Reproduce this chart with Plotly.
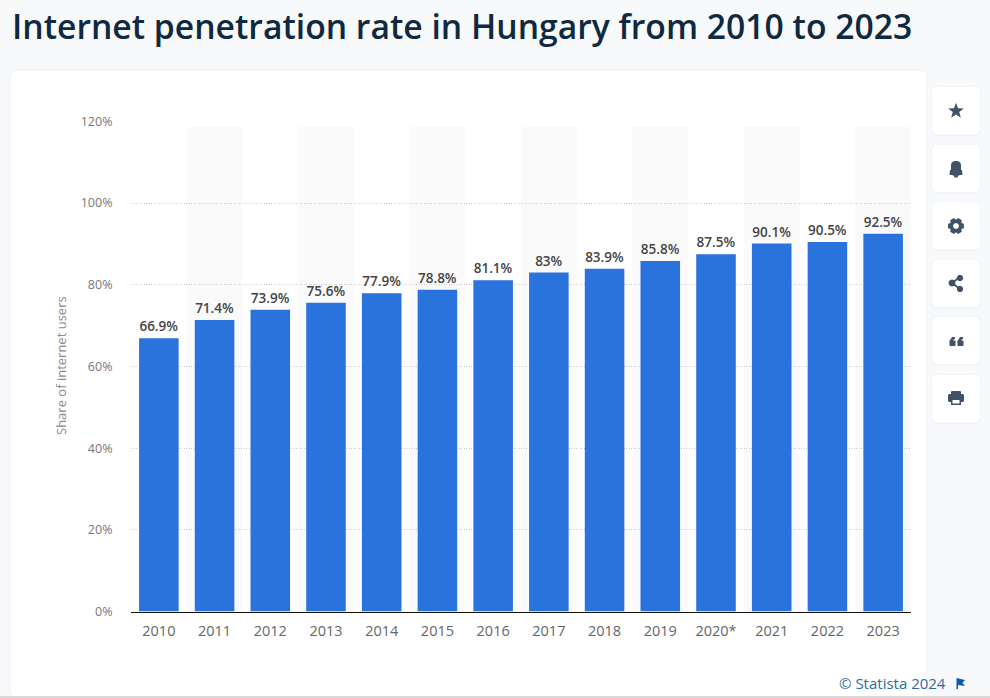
import math
import plotly.graph_objects as go

years = ['2010', '2011', '2012', '2013', '2014', '2015', '2016', '2017', '2018', '2019', '2020*', '2021', '2022', '2023']
share = [66.9, 71.4, 73.9, 75.6, 77.9, 78.8, 81.1, 83, 83.9, 85.8, 87.5, 90.1, 90.5, 92.5]
y_ticks = [0, 20, 40, 60, 80, 100, 120]
y_labels = ['0%', '20%', '40%', '60%', '80%', '100%', '120%']

W, H = 990, 698
FONT = 'Open Sans'
ICON = '#3f5268'


def px(x):
    return x / W


def py(y):
    return 1 - y / H


def poly(points):
    return 'M' + ' L'.join(f'{px(x):.5f},{py(y):.5f}' for x, y in points) + ' Z'


def rounded(x0, y0, x1, y1, r):
    return (f'M{px(x0 + r):.5f},{py(y0):.5f} L{px(x1 - r):.5f},{py(y0):.5f} '
            f'Q{px(x1):.5f},{py(y0):.5f} {px(x1):.5f},{py(y0 + r):.5f} '
            f'L{px(x1):.5f},{py(y1 - r):.5f} Q{px(x1):.5f},{py(y1):.5f} {px(x1 - r):.5f},{py(y1):.5f} '
            f'L{px(x0 + r):.5f},{py(y1):.5f} Q{px(x0):.5f},{py(y1):.5f} {px(x0):.5f},{py(y1 - r):.5f} '
            f'L{px(x0):.5f},{py(y0 + r):.5f} Q{px(x0):.5f},{py(y0):.5f} {px(x0 + r):.5f},{py(y0):.5f} Z')


def circle(cx, cy, r):
    pts = [(cx + r * math.cos(a * math.pi / 12), cy + r * math.sin(a * math.pi / 12)) for a in range(24)]
    return poly(pts)


def paper_shape(path, color, layer='below'):
    return dict(type='path', path=path, xref='paper', yref='paper', fillcolor=color,
                line=dict(width=0), layer=layer)


shapes = [
    # page and card
    dict(type='rect', xref='paper', yref='paper', x0=0, x1=1, y0=0, y1=1,
         fillcolor='#f8f9fb', line=dict(width=0), layer='below'),
    paper_shape(rounded(8, 69, 928, 697, 8), 'rgba(232,236,244,0.2)'),
    paper_shape(rounded(11, 71, 926, 697, 6), '#ffffff'),
    dict(type='rect', xref='paper', yref='paper', x0=0, x1=1, y0=0, y1=py(696),
         fillcolor='#d9d9d9', line=dict(width=0), layer='below'),
]

# pale stripes behind every other year
for i in range(1, len(years), 2):
    shapes.append(dict(type='rect', xref='x', yref='paper', x0=i - 0.5, x1=i + 0.5,
                       y0=py(611), y1=py(127), fillcolor='#fafafb',
                       line=dict(width=0), layer='below'))

# side buttons
for top in [87, 145, 202, 260, 317, 375]:
    shapes.append(paper_shape(rounded(930.5, top - 1, 981.5, top + 49, 7), 'rgba(225,230,240,0.22)', 'above'))
    shapes.append(paper_shape(rounded(932, top, 980, top + 47, 6), '#ffffff', 'above'))

# star
star = []
for k in range(10):
    r = 8.2 if k % 2 == 0 else 3.4
    a = -math.pi / 2 + k * math.pi / 5
    star.append((956 + r * math.cos(a), 111 + r * math.sin(a)))
shapes.append(paper_shape(poly(star), ICON, 'above'))

# bell
shapes.append(paper_shape(rounded(951, 161, 961, 176, 4.5), ICON, 'above'))
shapes.append(paper_shape(poly([(950, 170), (962, 170), (962.5, 175), (949.5, 175)]), ICON, 'above'))
shapes.append(paper_shape(rounded(954, 175.5, 958, 177.5, 1), ICON, 'above'))

# gear
teeth = []
for k in range(6):
    a = k * math.pi / 3
    w = 0.32
    teeth += [(956 + 6.2 * math.cos(a - w - 0.2), 226 + 6.2 * math.sin(a - w - 0.2)),
              (956 + 8.2 * math.cos(a - w + 0.05), 226 + 8.2 * math.sin(a - w + 0.05)),
              (956 + 8.2 * math.cos(a + w - 0.05), 226 + 8.2 * math.sin(a + w - 0.05)),
              (956 + 6.2 * math.cos(a + w + 0.2), 226 + 6.2 * math.sin(a + w + 0.2))]
shapes.append(paper_shape(poly(teeth), ICON, 'above'))
shapes.append(paper_shape(circle(956, 226, 2.9), '#ffffff', 'above'))

# share
for x0, y0, x1, y1 in [(960, 277, 952, 283), (952, 283, 960, 289)]:
    shapes.append(dict(type='line', xref='paper', yref='paper', x0=px(x0), y0=py(y0), x1=px(x1), y1=py(y1),
                       line=dict(color=ICON, width=1.8), layer='above'))
for cx, cy, r in [(960, 278, 3.1), (952, 283, 3.4), (960, 289, 3.1)]:
    shapes.append(paper_shape(circle(cx, cy, r), ICON, 'above'))

# quote marks
for dx in [0, 8]:
    shapes.append(paper_shape(rounded(949.5 + dx, 340.5, 955.5 + dx, 346, 0.8), ICON, 'above'))
    shapes.append(paper_shape(poly([(949.5 + dx, 341), (952 + dx, 337), (955 + dx, 337), (955 + dx, 338.5),
                                    (952.5 + dx, 341)]), ICON, 'above'))

# printer
shapes.append(paper_shape(rounded(951, 391, 961, 396, 1), ICON, 'above'))
shapes.append(paper_shape(rounded(948, 394, 964, 402, 1.5), ICON, 'above'))
shapes.append(paper_shape(poly([(951, 399), (961, 399), (961, 405), (951, 405)]), ICON, 'above'))
shapes.append(paper_shape(poly([(952.5, 400), (959.5, 400), (959.5, 403.5), (952.5, 403.5)]), '#ffffff', 'above'))

# statista flag
shapes.append(paper_shape(poly([(956.5, 678), (965, 680), (962.5, 683), (965, 686), (958, 685), (958, 689), (956.5, 689)]),
                          '#0b5cb5', 'above'))

fig = go.Figure()
fig.add_trace(go.Bar(x=years, y=share, marker=dict(color='#2a72dc', line=dict(width=0)),
                     texttemplate='%{y}%', textposition='outside', cliponaxis=False,
                     textfont=dict(family=FONT, size=13.5, color='#444444', weight=600),
                     hoverinfo='skip'))

fig.update_layout(
    width=W, height=H, autosize=False,
    margin=dict(l=0, r=0, t=0, b=0),
    paper_bgcolor='#f8f9fb', plot_bgcolor='rgba(0,0,0,0)',
    bargap=0.29, showlegend=False, shapes=shapes,
    font=dict(family=FONT),
    xaxis=dict(domain=[px(131), px(911)], type='category', categoryorder='array', categoryarray=years,
               range=[-0.5, 13.5], showline=True, linecolor='#111111', linewidth=1.2,
               ticks='outside', ticklen=6, tickcolor='rgba(0,0,0,0)', automargin=False,
               tickfont=dict(family=FONT, size=14.5, color='#666666'), showgrid=False),
    # top of the range sits just past 120 so the 120% gridline is still drawn
    yaxis=dict(domain=[py(611.5), py(121)], range=[0, 120.1], tickvals=y_ticks, ticktext=y_labels,
               tickfont=dict(family=FONT, size=12.5, color='#777777'), showline=False,
               ticks='outside', ticklen=15, tickcolor='rgba(0,0,0,0)', automargin=False,
               gridcolor='#cccccc', gridwidth=1, griddash='1px,1.5px', zeroline=False),
    annotations=[
        dict(text='Internet penetration rate in Hungary from 2010 to 2023', xref='paper', yref='paper',
             x=px(9.5), y=py(26), xanchor='left', yanchor='middle', showarrow=False,
             font=dict(family=FONT, size=33.7, color='#0f2a40', weight=600)),
        dict(text='Share of internet users', xref='paper', yref='paper', x=px(61), y=py(366),
             xanchor='center', yanchor='middle', textangle=-90, showarrow=False,
             font=dict(family=FONT, size=13, color='#8a8a8a')),
        dict(text='© Statista 2024', xref='paper', yref='paper', x=px(948), y=py(683),
             xanchor='right', yanchor='middle', showarrow=False,
             font=dict(family=FONT, size=15, color='#2f6aa0')),
    ],
)

# the default page margin would push the fixed-size figure out of the window
fig.write_html('out.html', config={'displayModeBar': False}, post_script="document.body.style.margin='0';")
